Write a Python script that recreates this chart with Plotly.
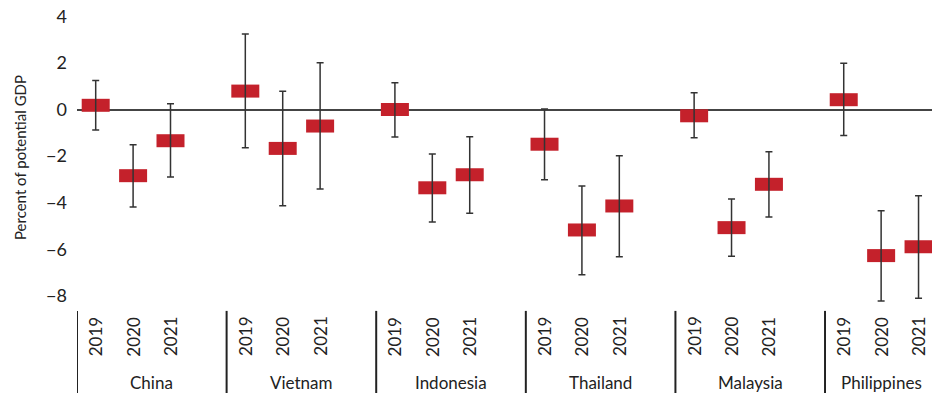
import plotly.graph_objects as go

countries = ["China", "Vietnam", "Indonesia", "Thailand", "Malaysia", "Philippines"]
years = ["2019", "2020", "2021"]

# Output gap estimates (percent of potential GDP), country order, years 2019-2021
central = [0.18, -2.84, -1.34,
           0.79, -1.67, -0.71,
           0.00, -3.36, -2.80,
           -1.49, -5.17, -4.14,
           -0.27, -5.07, -3.21,
           0.42, -6.27, -5.89]
upper = [1.24, -1.51, 0.25,
         3.24, 0.78, 2.01,
         1.15, -1.91, -1.17,
         0.02, -3.28, -1.98,
         0.72, -3.84, -1.81,
         1.98, -4.34, -3.70]
lower = [-0.88, -4.18, -2.90,
         -1.64, -4.13, -3.41,
         -1.18, -4.83, -4.45,
         -3.01, -7.09, -6.32,
         -1.21, -6.30, -4.61,
         -1.12, -8.22, -8.10]
y_ticks = [-8, -6, -4, -2, 0, 2, 4]

SLOTS = 4  # three years plus one blank slot per country
xs = [g * SLOTS + j for g in range(len(countries)) for j in range(len(years))]
err_plus = [u - c for u, c in zip(upper, central)]
err_minus = [c - l for c, l in zip(central, lower)]

RED = "#C4212B"
DARK = "#222222"
FONT = "Lato"

fig = go.Figure()
fig.add_trace(go.Scatter(
    x=xs, y=central, mode="markers",
    marker=dict(symbol="line-ew", size=20, color=RED, line=dict(width=13, color=RED)),
    hoverinfo="skip", showlegend=False,
))
fig.add_trace(go.Scatter(
    x=xs, y=central, mode="markers",
    marker=dict(size=1, opacity=0),
    error_y=dict(type="data", symmetric=False, array=err_plus, arrayminus=err_minus,
                 color="#333333", thickness=1.5, width=3.5),
    hoverinfo="skip", showlegend=False,
))

annotations = []
shapes = []
for g, c in enumerate(countries):
    for j, yr in enumerate(years):
        annotations.append(dict(x=g * SLOTS + j, y=-0.107, xref="x", yref="paper",
                                text=yr, textangle=-90, showarrow=False,
                                font=dict(family=FONT, size=17, color=DARK),
                                xanchor="center", yanchor="middle"))
    cx = min(g * SLOTS + 1.5, 21.0)
    annotations.append(dict(x=cx, y=-0.262, xref="x", yref="paper", text=c,
                            showarrow=False, font=dict(family=FONT, size=17, color=DARK),
                            xanchor="center", yanchor="middle"))
    shapes.append(dict(type="line", xref="x", yref="paper",
                       x0=g * SLOTS - 0.5, x1=g * SLOTS - 0.5, y0=-0.02, y1=-0.30,
                       line=dict(color=DARK, width=2)))

fig.update_layout(
    width=932, height=393,
    margin=dict(l=77, r=0, t=10, b=88),
    paper_bgcolor="white", plot_bgcolor="white",
    font=dict(family=FONT, color=DARK),
    xaxis=dict(range=[-0.5, 22.36], showgrid=False, zeroline=False, showticklabels=False,
               showline=False, ticks=""),
    yaxis=dict(range=[-8.39, 4.27], tickvals=y_ticks, showgrid=False,
               zeroline=True, zerolinecolor="#444444", zerolinewidth=1.5,
               showline=False, ticks="", ticklabelstandoff=9,
               tickfont=dict(family=FONT, size=18, color=DARK),
               title=dict(text="Percent of potential GDP", standoff=15,
                          font=dict(family=FONT, size=15, color=DARK))),
    annotations=annotations, shapes=shapes,
)

fig.write_html("out.html", config={"displayModeBar": False},
               post_script="document.body.style.margin='0';document.body.style.overflow='hidden';")
